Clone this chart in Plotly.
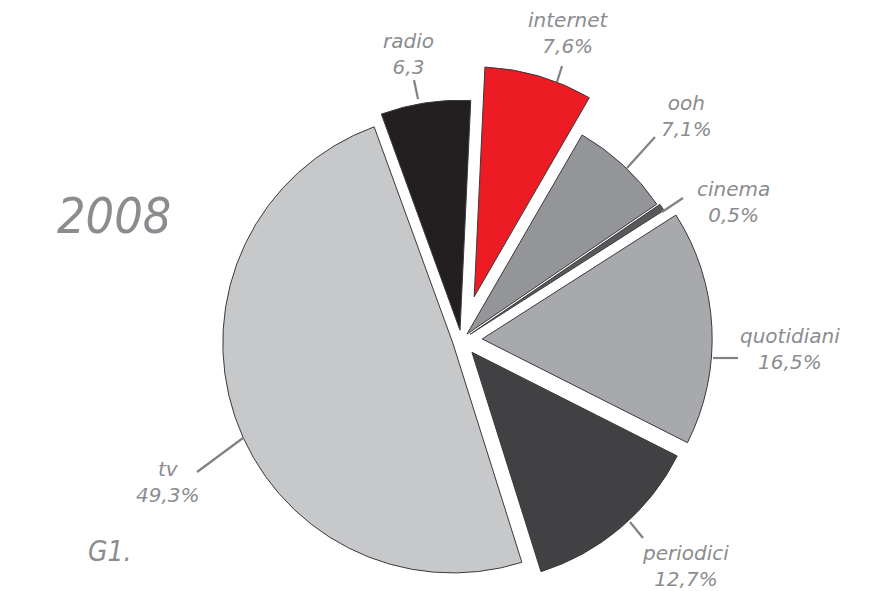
import math
import plotly.graph_objects as go

# ---- data ----
categories = ["radio", "internet", "ooh", "cinema", "quotidiani", "periodici", "tv"]
values = [6.3, 7.6, 7.1, 0.5, 16.5, 12.7, 49.3]
value_labels = ["6,3", "7,6%", "7,1%", "0,5%", "16,5%", "12,7%", "49,3%"]
colors = ["#231f20", "#ed1c24", "#939598", "#58595b", "#a7a9ac", "#414042", "#c7c8ca"]
pulls = [0.043, 0.0, 0.035, 0.045, 0.09, 0.07, 0.04]
highlight = "internet"
highlight_pull_px = 45
title_text = "2008"
tag_text = "G1."

# ---- layout constants ----
W, H = 877, 591
R_PX = 230
CX, CY = 461.5, 340
ROT = -20
TXT = "#8a8c8f"
FONT = "DejaVu Sans"
BIG_FONT = "DejaVu Sans Condensed, DejaVu Sans"


def dom(cx, cy, half):
    return dict(x=[max(0, (cx - half) / W), min(1, (cx + half) / W)],
                y=[max(0, 1 - (cy + half) / H), min(1, 1 - (cy - half) / H)])


hi = categories.index(highlight)
total = sum(values)
mid = ROT + 360 * (sum(values[:hi]) + values[hi] / 2) / total
hx = CX + highlight_pull_px * math.sin(math.radians(mid))
hy = CY - highlight_pull_px * math.cos(math.radians(mid))

TRANSP = "rgba(0,0,0,0)"
EDGE = "#3a3a3c"
colsA = [TRANSP if i == hi else c for i, c in enumerate(colors)]
lineA = [TRANSP if i == hi else EDGE for i in range(len(colors))]
colsB = [c if i == hi else TRANSP for i, c in enumerate(colors)]
lineB = [EDGE if i == hi else TRANSP for i in range(len(colors))]

maxp = max(pulls)
fig = go.Figure()
fig.add_trace(go.Pie(
    labels=categories, values=values, sort=False, direction="clockwise",
    rotation=ROT, pull=pulls, textinfo="none", showlegend=False,
    marker=dict(colors=colsA, line=dict(color=lineA, width=1)),
    domain=dom(CX, CY, R_PX * (1 + maxp)),
))
fig.add_trace(go.Pie(
    labels=categories, values=values, sort=False, direction="clockwise",
    rotation=ROT, textinfo="none", showlegend=False, hoverinfo="skip",
    marker=dict(colors=colsB, line=dict(color=lineB, width=1)),
    domain=dom(hx, hy, R_PX),
))

# label text positions (pixel centres) and leader lines
label_pos = [(408, 54), (568, 33), (686, 116), (733, 202), (790, 349), (685, 566), (168, 482)]
leaders = [((414, 80), (418, 99)), ((562, 66), (557, 82)), ((655, 137), (627, 168)),
           ((683, 198), (662, 212)), ((713, 358), (738, 358)), ((630, 522), (643, 538)),
           ((197, 472), (243, 438))]

for name, lab, (px, py) in zip(categories, value_labels, label_pos):
    fig.add_annotation(x=px / W, y=1 - py / H, xref="paper", yref="paper",
                       xanchor="center", yanchor="middle",
                       text=f"{name}<br>{lab}", showarrow=False, align="center",
                       font=dict(family=FONT, size=20, color=TXT, style="italic"))

for (x0, y0), (x1, y1) in leaders:
    fig.add_shape(type="line", xref="paper", yref="paper",
                  x0=x0 / W, y0=1 - y0 / H, x1=x1 / W, y1=1 - y1 / H,
                  line=dict(color="#7f8285", width=2.2))

fig.add_annotation(x=114 / W, y=1 - 216 / H, xref="paper", yref="paper", text=title_text,
                   xanchor="center", yanchor="middle", showarrow=False,
                   font=dict(family=BIG_FONT, size=50, color=TXT, style="italic"))
fig.add_annotation(x=110 / W, y=1 - 551 / H, xref="paper", yref="paper", text=tag_text,
                   xanchor="center", yanchor="middle", showarrow=False,
                   font=dict(family=BIG_FONT, size=28, color=TXT, style="italic"))

fig.update_layout(width=W, height=H, margin=dict(l=0, r=0, t=0, b=0),
                  paper_bgcolor="white", plot_bgcolor="white")
fig.write_html("out.html")
